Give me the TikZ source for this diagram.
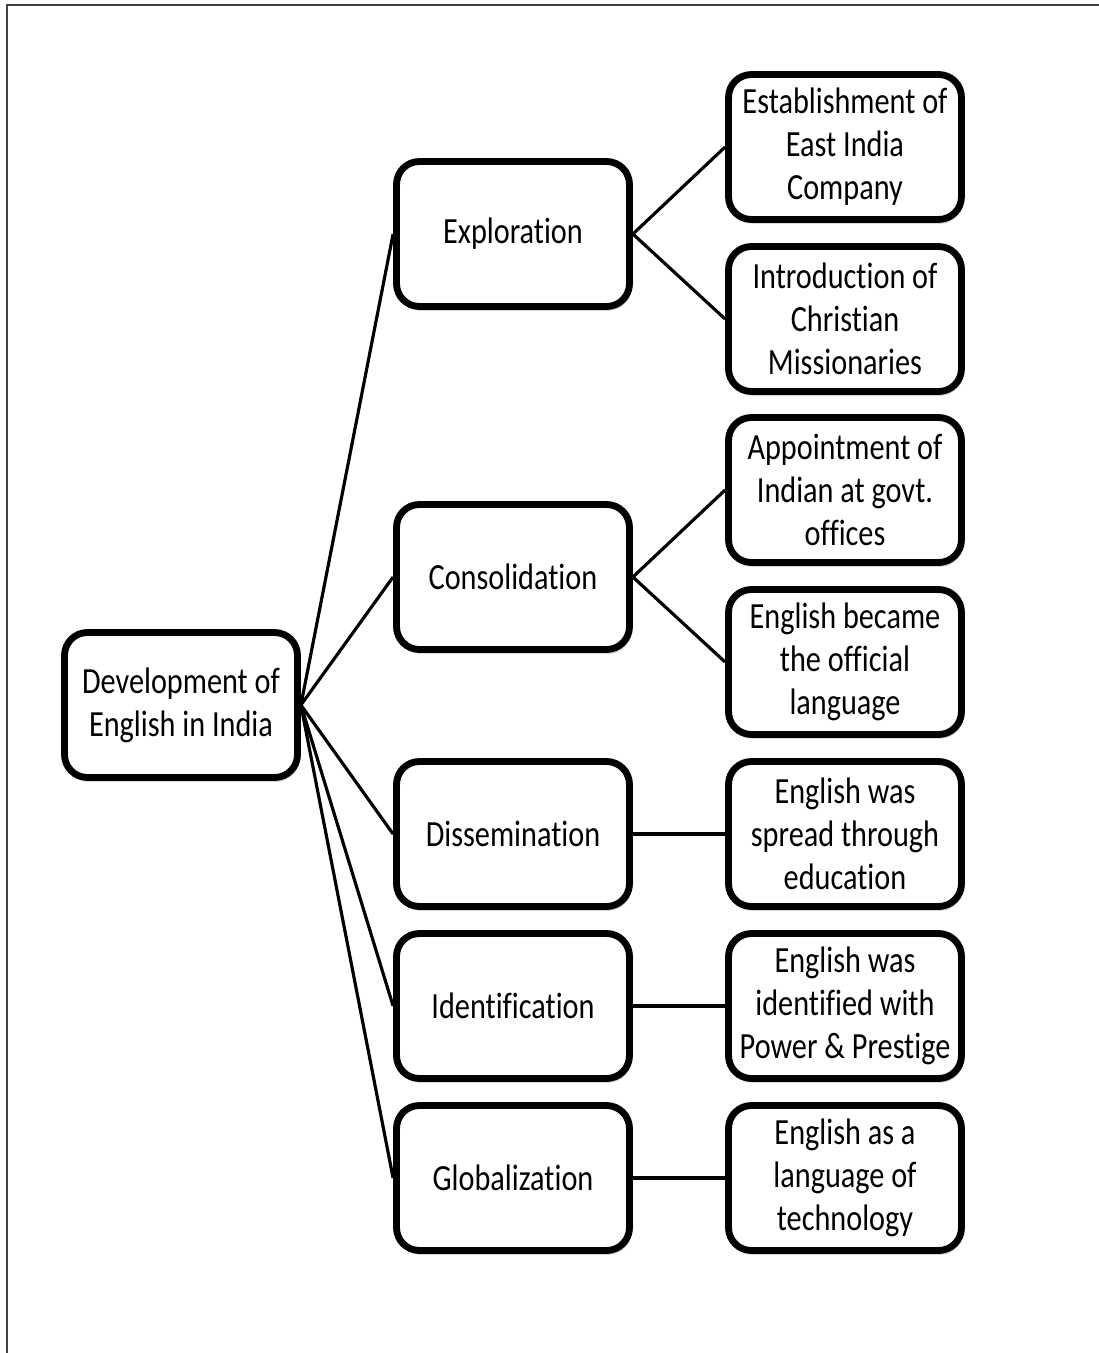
\documentclass[tikz,border=0pt]{standalone}
\usepackage{fontspec}
\setmainfont{Carlito}[FakeStretch=0.82, Ligatures=NoCommon]
\usetikzlibrary{shadows}

\tikzset{
  x=0.02cm, y=-0.02cm,
  box/.style={draw=black, line width=3.9pt, rounded corners=13pt, fill=white,
    minimum width=4.66cm, minimum height=2.9cm, align=center, inner sep=0pt,
    font=\fontsize{21}{24.4}\selectfont,
    drop shadow={shadow xshift=1pt, shadow yshift=-2.5pt, opacity=0.3, fill=gray}},
  link/.style={line width=1.8pt, black}
}

\begin{document}
\begin{tikzpicture}
  % page extent and outer frame
  \useasboundingbox (0,0) rectangle (1099,1353);
  \draw[line width=1.4pt, black!75] (7,1353) -- (7,5) -- (1099,5);

  % root
  \node[box] (root) at (181,705) {Development of\\English in India};

  % stages
  \node[box] (expl) at (513,234)  {Exploration};
  \node[box] (cons) at (513,577)  {Consolidation};
  \node[box] (diss) at (513,834)  {Dissemination};
  \node[box] (iden) at (513,1006) {Identification};
  \node[box] (glob) at (513,1178) {Globalization};

  % details
  \node[box] (est)  at (845,147)  {Establishment of\\East India\\Company};
  \node[box] (intr) at (845,319)  {Introduction of\\Christian\\Missionaries};
  \node[box] (appt) at (845,490)  {Appointment of\\Indian at govt.\\offices};
  \node[box] (offl) at (845,662)  {English became\\the official\\language};
  \node[box] (educ) at (845,834)  {English was\\spread through\\education};
  \node[box] (powr) at (845,1006) {English was\\identified with\\Power \& Prestige};
  \node[box] (tech) at (845,1178) {English as a\\language of\\technology};

  % connectors
  \foreach \n in {expl,cons,diss,iden,glob}
    \draw[link] (root.east) -- (\n.west);
  \draw[link] (expl.east) -- (est.west);
  \draw[link] (expl.east) -- (intr.west);
  \draw[link] (cons.east) -- (appt.west);
  \draw[link] (cons.east) -- (offl.west);
  \draw[link] (diss.east) -- (educ.west);
  \draw[link] (iden.east) -- (powr.west);
  \draw[link] (glob.east) -- (tech.west);
\end{tikzpicture}
\end{document}
